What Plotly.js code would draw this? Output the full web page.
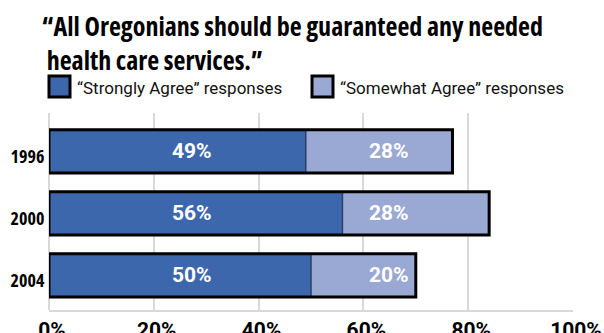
<!DOCTYPE html>
<html>
<head>
<meta charset="utf-8">
<script src="https://cdn.plot.ly/plotly-3.0.1.min.js"></script>
<style>
html,body{margin:0;padding:0;background:#fff;}
#chart{width:604px;height:333px;}
text[style*="DejaVu Sans Condensed"]{font-stretch:condensed;}
</style>
</head>
<body>
<div id="chart"></div>
<script>
// ---- data ----
const years = ['1996', '2000', '2004'];
const stronglyAgree = [49, 56, 50];
const somewhatAgree = [28, 28, 20];
const seriesNames = ['“Strongly Agree” responses', '“Somewhat Agree” responses'];
const xTickVals = [0, 20, 40, 60, 80, 100];
const xTickText = ['0%', '20%', '40%', '60%', '80%', '100%'];
const titleLines = ['“All Oregonians should be guaranteed any needed', 'health care services.”'];

// ---- styles ----
const DARK = '#3d67ad', LIGHT = '#9aa9d4';
const COND = '"Open Sans", "DejaVu Sans Condensed", sans-serif';      // condensed via CSS
const SANS = 'Roboto, "Liberation Sans", Arial, sans-serif';
const W = 604, H = 333;
const M = {l: 49, r: 31, t: 113, b: 23};
const PW = W - M.l - M.r, PH = H - M.t - M.b;
const px2x = p => (p - M.l) / PW;
const px2y = p => (H - M.b - p) / PH;

const totals = stronglyAgree.map((v, i) => v + somewhatAgree[i]);
const pct = v => v + '%';
const BARW = 0.7;
const yIdx = years.map((_, i) => i);

const traces = [
  {type: 'bar', orientation: 'h', y: years, x: stronglyAgree, width: BARW,
   marker: {color: DARK, line: {width: 0}}, hoverinfo: 'skip', showlegend: false},
  {type: 'bar', orientation: 'h', y: years, x: somewhatAgree, base: stronglyAgree, width: BARW,
   marker: {color: LIGHT, line: {color: '#2e3e64', width: 1.5}}, hoverinfo: 'skip', showlegend: false},
  {type: 'bar', orientation: 'h', y: years, x: totals, width: BARW,
   marker: {color: 'rgba(0,0,0,0)', line: {color: '#000', width: 3}}, hoverinfo: 'skip', showlegend: false}
];

// value labels (fixed horizontal positions, as in the original graphic)
const LABEL_X_STRONG = 27.3, LABEL_X_SOME = 64.9;
const labelFont = {family: SANS, size: 21, color: '#fff', weight: 700};
const annotations = [];
yIdx.forEach(i => {
  annotations.push({x: LABEL_X_STRONG, y: i, xref: 'x', yref: 'y', text: pct(stronglyAgree[i]),
    showarrow: false, font: labelFont});
  annotations.push({x: LABEL_X_SOME, y: i, xref: 'x', yref: 'y', text: pct(somewhatAgree[i]),
    showarrow: false, font: labelFont});
});

// title
annotations.push({xref: 'paper', yref: 'paper', x: px2x(39.5), y: px2y(6),
  xanchor: 'left', yanchor: 'top', align: 'left', text: titleLines.join('<br>&nbsp;'), showarrow: false,
  font: {family: COND, size: 26, color: '#000', weight: 700}});

// legend (drawn manually to match the large outlined swatches)
const legendItems = [
  {name: seriesNames[0], color: DARK, box: [49, 70], textX: 75},
  {name: seriesNames[1], color: LIGHT, box: [312, 333], textX: 338}
];
const shapes = [];
legendItems.forEach(it => {
  shapes.push({type: 'rect', xref: 'paper', yref: 'paper',
    x0: px2x(it.box[0]), x1: px2x(it.box[1]), y0: px2y(97), y1: px2y(76),
    fillcolor: it.color, line: {color: '#000', width: 3}});
  annotations.push({xref: 'paper', yref: 'paper', x: px2x(it.textX), y: px2y(88),
    xanchor: 'left', yanchor: 'middle', text: it.name, showarrow: false,
    font: {family: SANS, size: 17, color: '#111'}});
});

const layout = {
  width: W, height: H,
  margin: M,
  paper_bgcolor: '#fff', plot_bgcolor: '#fff',
  barmode: 'overlay',
  showlegend: false,
  xaxis: {range: [0, 100], tickvals: xTickVals, ticktext: xTickText, showgrid: true,
    gridcolor: '#d9d9d9', gridwidth: 2, zeroline: true, zerolinecolor: '#d9d9d9', zerolinewidth: 2,
    showline: true, linecolor: '#d9d9d9', linewidth: 2, ticks: '', ticklabelshift: 3,
    tickfont: {family: SANS, size: 21, color: '#000', weight: 700}, fixedrange: true},
  yaxis: {type: 'category', categoryorder: 'array', categoryarray: years, range: [2.56, -0.62],
    showgrid: false, zeroline: false, showline: false, ticks: 'outside', ticklen: 0,
    tickcolor: 'rgba(0,0,0,0)', ticklabelshift: -5,
    tickfont: {family: COND, size: 18, color: '#000', weight: 700},
    fixedrange: true},
  shapes: shapes,
  annotations: annotations
};

Plotly.newPlot('chart', traces, layout, {displayModeBar: false, staticPlot: true});
</script>
</body>
</html>
